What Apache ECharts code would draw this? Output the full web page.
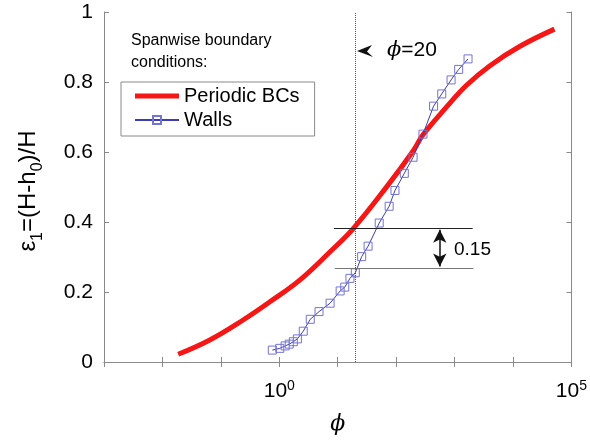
<!DOCTYPE html>
<html>
<head>
<meta charset="utf-8">
<script src="https://cdn.jsdelivr.net/npm/echarts@6/dist/echarts.min.js"></script>
<style>
  html, body { margin: 0; padding: 0; background: #fff; }
  #chart { width: 590px; height: 440px; }
</style>
</head>
<body>
<div id="chart"></div>
<script>
// Periodic BCs curve: phi and epsilon_1
const periodicPhi = [0.0186, 0.0646, 0.24, 0.69, 2.24, 7.41, 18.6, 69.2, 195, 288, 724, 1585, 3981, 13180, 51300];
const periodicEps = [0.022, 0.063, 0.12, 0.172, 0.234, 0.315, 0.382, 0.501, 0.603, 0.649, 0.728, 0.79, 0.846, 0.902, 0.951];

// Walls curve
const wallsPhi = [0.76, 1.02, 1.26, 1.48, 1.74, 2.04, 2.57, 3.39, 4.79, 7.41, 11.0, 13.2, 16.2, 20.0, 25.7, 33.1,
  51.3, 75.9, 95.5, 138, 195, 288, 437, 603, 871, 1175, 1700];
const wallsEps = [0.034, 0.039, 0.046, 0.051, 0.058, 0.066, 0.088, 0.122, 0.144, 0.168, 0.203, 0.214, 0.239, 0.255, 0.301, 0.331,
  0.397, 0.445, 0.49, 0.539, 0.585, 0.651, 0.731, 0.766, 0.806, 0.836, 0.866];

// x tick labels (by decade exponent), only two are labelled
const xTickLabels = { 0: '10{sup|0}', 5: '10{sup|5}' };

// annotations
const phiMark = 20;
const levelTop = [8.6, 2040, 0.382];     // [phi from, phi to, eps]
const levelBottom = [8.9, 2100, 0.269];
const gapArrow = [558, 0.378, 0.273];    // [phi, eps top, eps bottom]

const font = 'Liberation Sans, Arial, Helvetica, sans-serif';
const axisGray = '#8a8a8a';

const chart = echarts.init(document.getElementById('chart'));

chart.setOption({
  animation: false,
  backgroundColor: '#fff',
  textStyle: { fontFamily: font },
  grid: { left: 104, right: 18, top: 12, bottom: 78 },
  legend: {
    left: 121, top: 82,
    orient: 'vertical',
    data: [
      { name: 'Periodic BCs', icon: 'path://M0,0 L44,0 L44,5 L0,5 Z' },
      { name: 'Walls' }
    ],
    borderColor: '#8a8a8a', borderWidth: 1, borderRadius: 0,
    padding: [4, 15, 6, 13],
    itemGap: 4, itemWidth: 44, itemHeight: 10,
    textStyle: { fontFamily: font, fontSize: 20, color: '#000' }
  },
  xAxis: [{
    type: 'log', logBase: 10, min: 0.001, max: 100000, splitNumber: 8,
    axisLine: { lineStyle: { color: axisGray } },
    axisTick: { inside: true, length: 5, lineStyle: { color: axisGray } },
    splitLine: { show: false },
    axisLabel: {
      margin: 17, color: '#000', fontSize: 21, fontFamily: font,
      showMinLabel: true, showMaxLabel: true,
      formatter: function (v) {
        const e = Math.round(Math.log10(v));
        return xTickLabels[e] || '';
      },
      rich: {
        sup: { fontSize: 14, fontFamily: font, color: '#000', verticalAlign: 'bottom', padding: [0, 0, 11, 0] }
      }
    },
    name: '\u03D5', nameLocation: 'middle', nameGap: 51,
    nameTextStyle: { fontFamily: 'DejaVu Serif, serif', fontStyle: 'italic', fontSize: 22, color: '#000' }
  }, {
    type: 'log', logBase: 10, min: 0.001, max: 100000, splitNumber: 8, position: 'top',
    axisLine: { lineStyle: { color: axisGray } },
    axisTick: { inside: true, length: 5, lineStyle: { color: axisGray } },
    axisLabel: { show: false },
    splitLine: { show: false }
  }],
  yAxis: [{
    type: 'value', min: 0, max: 1, interval: 0.2,
    axisLine: { show: true, lineStyle: { color: axisGray } },
    axisTick: { show: true, inside: true, length: 5, lineStyle: { color: axisGray } },
    splitLine: { show: false },
    axisLabel: { margin: 11, color: '#000', fontSize: 21, fontFamily: font }
  }, {
    type: 'value', min: 0, max: 1, interval: 0.2, position: 'right',
    axisLine: { show: true, lineStyle: { color: axisGray } },
    axisTick: { show: true, inside: true, length: 5, lineStyle: { color: axisGray } },
    axisLabel: { show: false },
    splitLine: { show: false }
  }],
  series: [{
    name: 'Periodic BCs', type: 'line',
    data: periodicPhi.map((p, i) => [p, periodicEps[i]]),
    smooth: 0.4, symbol: 'none',
    lineStyle: { color: '#f51616', width: 5 },
    itemStyle: { color: '#f51616' },
    z: 2,
    markLine: {
      silent: true, symbol: ['none', 'none'], label: { show: false },
      data: [
        [{ coord: [levelTop[0], levelTop[2]], lineStyle: { color: '#222', width: 1.2, type: 'solid' } },
         { coord: [levelTop[1], levelTop[2]] }],
        [{ coord: [levelBottom[0], levelBottom[2]], lineStyle: { color: '#777', width: 1.2, type: 'solid' } },
         { coord: [levelBottom[1], levelBottom[2]] }],
        [{ coord: [gapArrow[0], gapArrow[1]], symbol: 'arrow', symbolSize: [10, 13], lineStyle: { color: '#111', width: 1.5, type: 'solid' } },
         { coord: [gapArrow[0], gapArrow[2]], symbol: 'arrow', symbolSize: [10, 13] }]
      ]
    }
  }, {
    name: 'Walls', type: 'line',
    data: wallsPhi.map((p, i) => [p, wallsEps[i]]),
    symbol: 'rect', symbolSize: 8,
    lineStyle: { color: '#3c3cb4', width: 1 },
    itemStyle: { color: 'rgba(255,255,255,0)', borderColor: '#7474d4', borderWidth: 1 },
    z: 3,
    markLine: {
      silent: true, symbol: ['none', 'none'], label: { show: false },
      lineStyle: { color: '#555', width: 1, type: 'dotted' },
      data: [{ xAxis: phiMark }]
    }
  }],
  graphic: [{
    type: 'text', x: 31, y: 191, rotation: Math.PI / 2,
    style: {
      text: '{n|\u03B5}{s|1}{n|=(H-h}{s|0}{n|)/H}',
      align: 'center', verticalAlign: 'middle',
      rich: {
        n: { font: '24px ' + font, fill: '#000', verticalAlign: 'bottom', padding: [0, 0, 6, 0] },
        s: { font: '16px ' + font, fill: '#000', verticalAlign: 'bottom' }
      }
    }
  }, {
    type: 'text', left: 131, top: 30,
    style: { text: 'Spanwise boundary\nconditions:', font: '16px ' + font, fill: '#000', lineHeight: 22 }
  }, {
    type: 'polygon',
    shape: { points: [[357, 51], [372, 45], [367, 51.5], [373, 57]] },
    style: { fill: '#111' }
  }, {
    type: 'text', left: 387, top: 40,
    style: { rich: { p: { font: 'italic 21px DejaVu Serif, serif', fill: '#000' }, t: { font: '21px ' + font, fill: '#000' } },
      text: '{p|\u03D5}{t|=20}' }
  }, {
    type: 'text', left: 454, top: 240,
    style: { text: '0.15', font: '19px ' + font, fill: '#000' }
  }]
});
</script>
</body>
</html>
